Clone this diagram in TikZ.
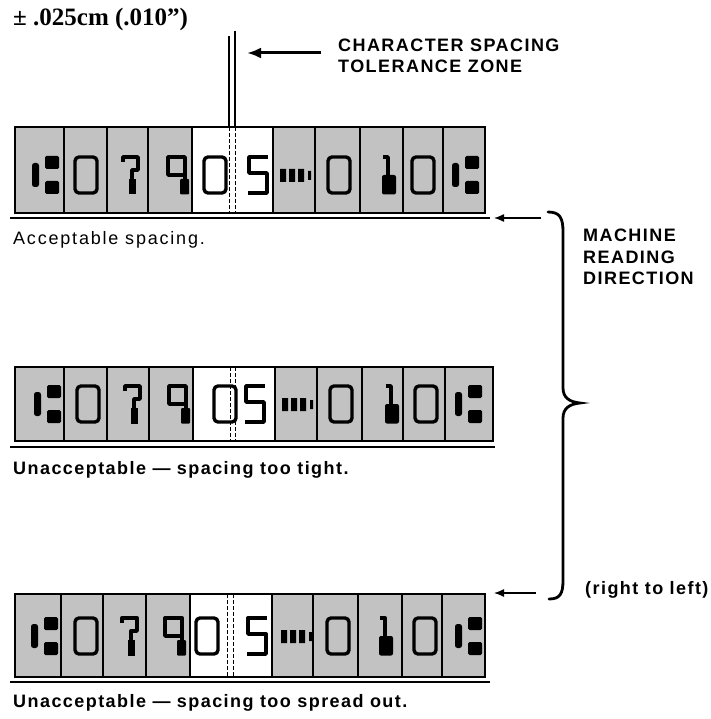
\documentclass[tikz,border=0pt]{standalone}
\usepackage{fontspec}
\setmainfont{Liberation Sans}
\newfontfamily\tolfont{Liberation Serif}
\usetikzlibrary{positioning, arrows.meta}

\tikzset{
  cellgray/.style={fill=black!24},
  cellline/.style={line width=1.3pt},
  baserule/.style={line width=1.5pt},
  zonedash/.style={line width=1pt, dash pattern=on 4pt off 2pt},
  zoneline/.style={line width=1.2pt},
  glyph/.style={line width=3.4pt, line join=round},
  capnote/.style={anchor=west, inner sep=0pt, font=\fontsize{18}{21}\selectfont\addfontfeature{LetterSpace=10}},
  boldnote/.style={anchor=west, inner sep=0pt, font=\fontsize{18}{21.5}\selectfont\bfseries\addfontfeature{LetterSpace=8}},
  readarrow/.style={-{Latex[length=10pt,width=8pt]}, line width=1.3pt},
  zonearrow/.style={-{Latex[length=14pt,width=11pt]}, line width=3pt},
  rdbrace/.style={line width=2.8pt, line cap=round},
  % E-13B style characters
  zero/.pic={\draw[glyph, rounded corners=4pt] (-11,-18) rectangle (11,18);},
  seven/.pic={\draw[glyph] (-8,-13) -- (-8,-18) -- (7,-18) -- (7,-5) -- (1,-5) -- (1,18); \fill (-2,4) rectangle (5,19.5);},
  nine/.pic={\draw[glyph] (8,0) -- (-9,0) -- (-9,-18) -- (8,-18) -- (8,18); \fill[rounded corners=1pt] (3,4) rectangle (12,19.5);},
  five/.pic={\draw[glyph] (10,-18) -- (-9,-18) -- (-9,-2) -- (9,-2) -- (9,18) -- (-10,18);},
  one/.pic={\draw[glyph] (-5,-18) -- (0,-18) -- (0,2); \fill[rounded corners=2pt] (-6,0) rectangle (8,19.5);},
  transit/.pic={\fill[rounded corners=2.5pt] (-11,-12) rectangle (-4,12); \fill[rounded corners=1.5pt] (2,-19) rectangle (16,-6) (2,6) rectangle (16,19);},
  dashsym/.pic={\fill (-16,-6) rectangle (-10,7) (-7,-6) rectangle (-1,7) (2,-6) rectangle (8,7) (12,-4) rectangle (15,5);},
}

\begin{document}
\begin{tikzpicture}[x=1pt, y=-1pt]
\useasboundingbox (0,0) rectangle (710,719);

% Tolerance zone heading
\node[anchor=west, inner sep=0pt, font=\tolfont\fontsize{25}{28}\selectfont\bfseries] (tol) at (13,19) {± .025cm (.010”)};
\node[boldnote, align=left] (zonetext) at (338,56) {CHARACTER SPACING\\TOLERANCE ZONE};
\coordinate (zonetail) at (321,53);
\coordinate (zonetip) at (247,53);
\draw[zonearrow] (zonetail) -- (zonetip);
\draw[zoneline] (229,36) -- (229,127) (235,31) -- (235,127);

% Row 1 - acceptable
\fill[cellgray] (15,127) rectangle (192,213);
\fill[cellgray] (273,127) rectangle (485,213);
\draw[zonedash] (229,127) -- (229,213) (235,127) -- (235,213);
\pic at (43,175) {transit}; \pic at (86,175) {zero}; \pic at (131,175) {seven}; \pic at (177,175) {nine};
\pic at (215,175) {zero}; \pic at (258,175) {five};
\pic at (296,175) {dashsym}; \pic at (339,175) {zero}; \pic at (388,175) {one}; \pic at (423,175) {zero}; \pic at (463,175) {transit};
\draw[cellline] (15,127) rectangle (485,213);
\draw[cellline] (64,127) -- (64,213) (107,127) -- (107,213) (148,127) -- (148,213) (192,127) -- (192,213) (273,127) -- (273,213) (315,127) -- (315,213) (360,127) -- (360,213) (403,127) -- (403,213) (443,127) -- (443,213);
\draw[baserule] (10,218) -- (490,218);
\node[capnote] (ok) at (13,240) {Acceptable spacing.};

% Row 2 - too tight
\fill[cellgray] (15,367) rectangle (193,441);
\fill[cellgray] (275,367) rectangle (493,441);
\draw[zonedash] (230,367) -- (230,441) (235,367) -- (235,441);
\pic at (45,404) {transit}; \pic at (88,404) {zero}; \pic at (133,404) {seven}; \pic at (178,404) {nine};
\pic at (225,404) {zero}; \pic at (255,404) {five};
\pic at (298,404) {dashsym}; \pic at (341,404) {zero}; \pic at (391,404) {one}; \pic at (426,404) {zero}; \pic at (466,404) {transit};
\draw[cellline] (15,367) rectangle (493,441);
\draw[cellline] (64,367) -- (64,441) (107,367) -- (107,441) (149,367) -- (149,441) (193,367) -- (193,441) (275,367) -- (275,441) (317,367) -- (317,441) (362,367) -- (362,441) (403,367) -- (403,441) (445,367) -- (445,441);
\draw[baserule] (10,447) -- (495,447);
\node[boldnote] (tight) at (13,470) {Unacceptable — spacing too tight.};

% Row 3 - too spread out
\fill[cellgray] (15,594) rectangle (190,677);
\fill[cellgray] (272,594) rectangle (485,677);
\draw[zonedash] (227,594) -- (227,677) (233,594) -- (233,677);
\pic at (42,636) {transit}; \pic at (86,636) {zero}; \pic at (130,636) {seven}; \pic at (174,636) {nine};
\pic at (207,636) {zero}; \pic at (257,636) {five};
\pic at (297,636) {dashsym}; \pic at (338,636) {zero}; \pic at (385,636) {one}; \pic at (425,636) {zero}; \pic at (466,636) {transit};
\draw[cellline] (15,594) rectangle (485,677);
\draw[cellline] (61,594) -- (61,677) (103,594) -- (103,677) (146,594) -- (146,677) (190,594) -- (190,677) (272,594) -- (272,677) (313,594) -- (313,677) (358,594) -- (358,677) (402,594) -- (402,677) (442,594) -- (442,677);
\draw[baserule] (10,682) -- (490,682);
\node[boldnote] (spread) at (13,703) {Unacceptable — spacing too spread out.};

% Reading direction
\draw[rdbrace] (548,212) .. controls (560,212) and (563,218) .. (563,232) -- (563,388)
  .. controls (563,398) and (570,402) .. (580,403) .. controls (570,404) and (563,408) .. (563,418)
  -- (563,580) .. controls (563,594) and (560,599) .. (549,599);
\coordinate (rd1tail) at (541,218);
\coordinate (rd1tip) at (494,218);
\coordinate (rd3tail) at (536,593);
\coordinate (rd3tip) at (494,593);
\draw[readarrow] (rd1tail) -- (rd1tip);
\draw[readarrow] (rd3tail) -- (rd3tip);
\node[boldnote, anchor=north west, align=left] (mrd) at (583,229) {MACHINE\\READING\\DIRECTION};
\node[boldnote] (rtl) at (585,590) {(right to left)};
\end{tikzpicture}
\end{document}
